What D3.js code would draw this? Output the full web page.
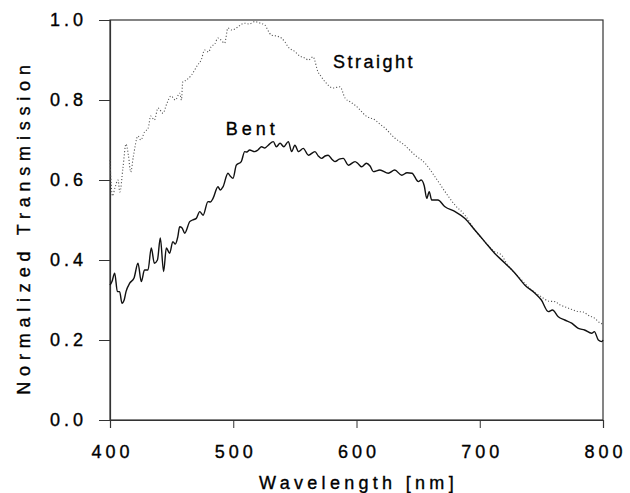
<!DOCTYPE html>
<html><head><meta charset="utf-8">
<script src="https://cdn.jsdelivr.net/npm/d3@7"></script>
<style>
html,body{margin:0;padding:0;background:#fff;}
svg text{font-family:"Liberation Sans",Arial,Helvetica,sans-serif;fill:#000;stroke:#000;stroke-width:0.35px;}
</style></head>
<body>
<svg id="chart" width="630" height="493"></svg>
<script>
const xTicks = [400, 500, 600, 700, 800];
const yTicks = [0.0, 0.2, 0.4, 0.6, 0.8, 1.0];
const xLabel = "Wavelength [nm]";
const yLabel = "Normalized Transmission";
const seriesNames = ["Straight", "Bent"];

const straightWl = [400,402,404,406.5,408,410.5,413,415,416.8,419,422.7,425,428,431,433,436,439,443,446,449.5,453,456.5,458,459,462,466,471,474,476.8,480,482,485,487.6,490,493,495.7,499,503.9,507,509,513,517.4,521,525.8,528,531,535,539,542,544.5,550,554,558,561,564.7,568.7,571,574.4,581,586.6,590.7,595,598.8,603,606.9,615,619,623,631,639,647.5,655.6,663.7,671.8,680,688,696,704,712,717.8,722,726,734,742,750,756,761,765,769,775,779.7,784,788,793,797.5,800];
const straightT = [0.65,0.56,0.58,0.60,0.57,0.63,0.69,0.66,0.62,0.66,0.71,0.70,0.72,0.73,0.76,0.75,0.78,0.767,0.79,0.81,0.80,0.817,0.80,0.845,0.85,0.862,0.887,0.90,0.925,0.92,0.933,0.94,0.955,0.95,0.942,0.98,0.975,0.983,0.99,0.992,0.99,0.996,0.993,0.987,0.975,0.962,0.96,0.955,0.945,0.933,0.921,0.91,0.905,0.90,0.908,0.871,0.86,0.846,0.83,0.833,0.805,0.795,0.787,0.775,0.762,0.75,0.74,0.73,0.705,0.687,0.662,0.642,0.608,0.571,0.537,0.512,0.475,0.446,0.421,0.412,0.39,0.375,0.35,0.325,0.308,0.297,0.296,0.288,0.283,0.276,0.271,0.27,0.262,0.255,0.243,0.24];

const bentWl = [400,401.6,403.8,406,407.8,409.7,411.5,413,416,419.5,422.7,425.4,428,430.8,433.5,436,438.5,440.8,443.5,445.7,448.4,451,453,455,456.5,458.5,460.6,464.7,467,470,472.8,475.5,479.5,481.5,483.6,487.6,489.5,491.7,495.7,497.5,499.8,502.5,506.5,509.3,511,513.3,517.4,520,523,525.5,528.4,532.5,535,538,541,544.7,547.4,550,553,556.8,561,566.3,569,571.7,574.5,577,580,582.5,586,589.3,593.4,598.8,601.5,604.2,608,611,613.6,619,625.8,631,636.7,641,645,650.2,652.5,655,657,659,661,666,671.8,680,688,696,704,712,720.5,728.6,736.7,744.8,750,755.6,759,763.7,769,774.6,780,785,790.8,793,796.2,799,800];
const bentT = [0.337,0.346,0.367,0.321,0.321,0.292,0.30,0.321,0.342,0.355,0.392,0.346,0.375,0.375,0.43,0.392,0.40,0.455,0.371,0.43,0.417,0.446,0.44,0.458,0.483,0.48,0.467,0.496,0.50,0.504,0.521,0.512,0.546,0.545,0.554,0.583,0.575,0.583,0.617,0.61,0.604,0.637,0.646,0.671,0.67,0.675,0.671,0.675,0.683,0.68,0.687,0.696,0.683,0.692,0.683,0.696,0.671,0.687,0.671,0.679,0.662,0.671,0.66,0.654,0.66,0.662,0.652,0.646,0.652,0.654,0.637,0.646,0.64,0.633,0.642,0.635,0.621,0.625,0.617,0.625,0.612,0.618,0.617,0.596,0.60,0.585,0.554,0.571,0.55,0.55,0.533,0.521,0.504,0.475,0.446,0.417,0.392,0.367,0.337,0.317,0.30,0.271,0.275,0.258,0.25,0.242,0.229,0.225,0.217,0.221,0.2,0.196,0.20];

const W = 630, H = 493;
const margin = {left: 110, right: 27, top: 20, bottom: 73};
const svg = d3.select("#chart");
const x = d3.scaleLinear().domain([400, 800]).range([margin.left, W - margin.right]);
const y = d3.scaleLinear().domain([0, 1]).range([H - margin.bottom, margin.top]);

// frame
svg.append("rect")
  .attr("x", x(400)).attr("y", y(1))
  .attr("width", x(800) - x(400)).attr("height", y(0) - y(1))
  .attr("fill", "none").attr("stroke", "#333").attr("stroke-width", 1.2);

const xAxis = svg.append("g").attr("transform", `translate(0,${y(0)})`)
  .call(d3.axisBottom(x).tickValues(xTicks).tickSize(8).tickPadding(17).tickFormat(d3.format("d")));
const yAxis = svg.append("g").attr("transform", `translate(${x(400)},0)`)
  .call(d3.axisLeft(y).tickValues(yTicks).tickSize(11).tickPadding(12).tickFormat(d3.format(".1f")));
[xAxis, yAxis].forEach(g => {
  g.select(".domain").attr("stroke", "#333").attr("stroke-width", 1.2);
  g.selectAll(".tick line").attr("stroke", "#333").attr("stroke-width", 1);
  g.selectAll(".tick text").attr("font-size", 18).attr("letter-spacing", "4px").attr("fill", "#000");
});
xAxis.selectAll(".tick text").attr("dx", "2px");

const line = d3.line().x(d => x(d[0])).y(d => y(d[1])).curve(d3.curveMonotoneX);

const straight = straightWl.map((w, i) => [w, straightT[i]]);
const bent = bentWl.map((w, i) => [w, bentT[i]]);

svg.append("path").datum(straight)
  .attr("d", line).attr("fill", "none")
  .attr("stroke", "#555").attr("stroke-width", 1.1).attr("stroke-dasharray", "1.1,2");
svg.append("path").datum(bent)
  .attr("d", line).attr("fill", "none")
  .attr("stroke", "#111").attr("stroke-width", 1.4);

svg.append("text").attr("x", x(581)).attr("y", y(0.88))
  .attr("font-size", 18).attr("letter-spacing", "2.5px").text(seriesNames[0]);
svg.append("text").attr("x", x(494)).attr("y", y(0.713))
  .attr("font-size", 18).attr("letter-spacing", "4px").text(seriesNames[1]);

svg.append("text").attr("x", (x(400) + x(800)) / 2 + 2).attr("y", 489)
  .attr("text-anchor", "middle").attr("font-size", 18).attr("letter-spacing", "4.3px").text(xLabel);
svg.append("text").attr("transform", `translate(30,${(y(0)+y(1))/2 + 7}) rotate(-90)`)
  .attr("text-anchor", "middle").attr("font-size", 18).attr("letter-spacing", "5.8px").text(yLabel);
</script>
</body></html>
